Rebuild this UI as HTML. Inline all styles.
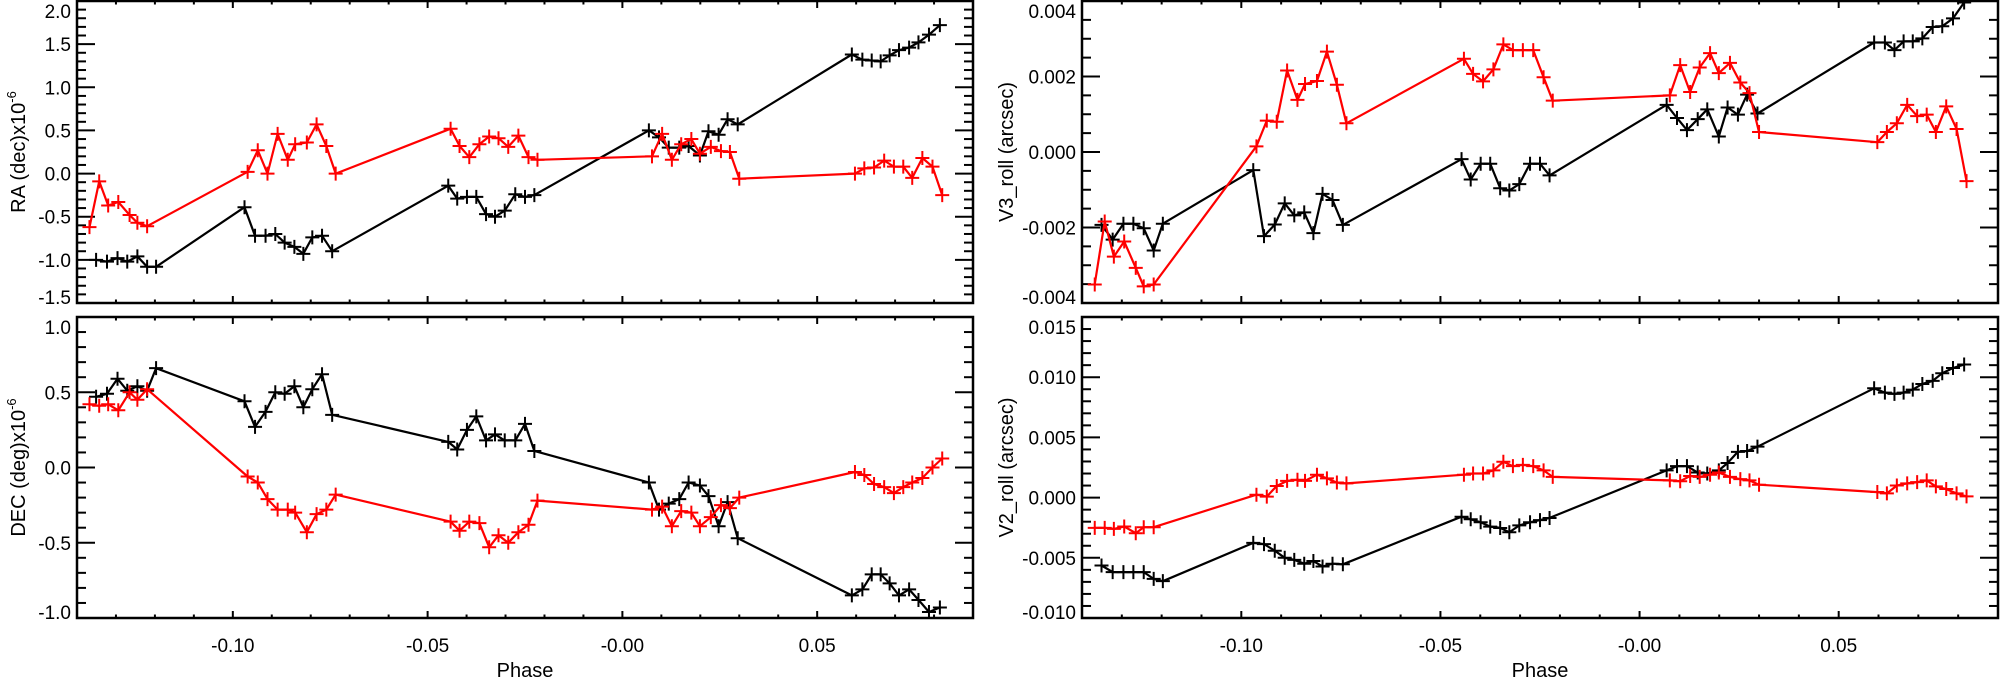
<!DOCTYPE html>
<html><head><meta charset="utf-8"><style>
html,body{margin:0;padding:0;background:#fff;}
svg{display:block;font-family:"Liberation Sans",Arial,sans-serif;}
</style></head><body>
<svg id="fig" width="2000" height="679" viewBox="0 0 2000 679" xmlns="http://www.w3.org/2000/svg"></svg>
<script>
// ---- data ----
const blackPhase = [-0.1351,-0.1323,-0.1296,-0.1271,-0.1245,-0.1220,-0.1197,
 -0.0970,-0.0943,-0.0916,-0.0891,-0.0867,-0.0842,-0.0819,-0.0796,-0.0771,-0.0745,
 -0.0447,-0.0424,-0.0399,-0.0375,-0.0350,-0.0327,-0.0302,-0.0275,-0.0250,-0.0226,
 0.0068,0.0094,0.0119,0.0146,0.0170,0.0199,0.0221,0.0247,0.0270,0.0296,
 0.0589,0.0616,0.0640,0.0663,0.0686,0.0710,0.0736,0.0760,0.0787,0.0815];
const redPhase = [-0.1368,-0.1343,-0.1320,-0.1294,-0.1265,-0.1245,-0.1220,
 -0.0962,-0.0936,-0.0911,-0.0885,-0.0859,-0.0840,-0.0810,-0.0785,-0.0760,-0.0736,
 -0.0441,-0.0418,-0.0393,-0.0367,-0.0342,-0.0318,-0.0293,-0.0267,-0.0241,-0.0218,
 0.0076,0.0102,0.0127,0.0151,0.0177,0.0199,0.0227,0.0253,0.0276,0.0300,
 0.0597,0.0621,0.0646,0.0672,0.0697,0.0721,0.0744,0.0770,0.0796,0.0821];
const raBlack = [-1.00,-1.02,-0.98,-1.02,-0.96,-1.08,-1.08,
 -0.39,-0.72,-0.72,-0.70,-0.80,-0.85,-0.93,-0.74,-0.72,-0.90,
 -0.14,-0.29,-0.27,-0.27,-0.47,-0.50,-0.43,-0.24,-0.27,-0.25,
 0.50,0.42,0.30,0.30,0.32,0.21,0.49,0.45,0.63,0.57,
 1.38,1.32,1.31,1.30,1.37,1.43,1.46,1.52,1.61,1.72];
const raRed = [-0.62,-0.09,-0.37,-0.33,-0.48,-0.57,-0.61,
 0.02,0.27,0.00,0.46,0.16,0.34,0.36,0.57,0.32,0.00,
 0.52,0.32,0.19,0.34,0.43,0.41,0.31,0.44,0.19,0.16,
 0.20,0.46,0.16,0.34,0.40,0.23,0.31,0.26,0.25,-0.06,
 0.00,0.06,0.07,0.15,0.08,0.08,-0.05,0.18,0.08,-0.25];
const decBlack = [0.47,0.49,0.59,0.51,0.54,0.51,0.66,
 0.44,0.27,0.37,0.50,0.49,0.54,0.40,0.52,0.62,0.35,
 0.17,0.12,0.25,0.34,0.18,0.22,0.18,0.18,0.29,0.11,
 -0.10,-0.28,-0.24,-0.21,-0.10,-0.12,-0.19,-0.39,-0.23,-0.47,
 -0.85,-0.81,-0.71,-0.71,-0.77,-0.85,-0.81,-0.88,-0.96,-0.93];
const decRed = [0.42,0.41,0.42,0.38,0.50,0.45,0.52,
 -0.06,-0.10,-0.21,-0.28,-0.28,-0.30,-0.43,-0.31,-0.28,-0.18,
 -0.36,-0.42,-0.36,-0.37,-0.53,-0.45,-0.50,-0.43,-0.38,-0.22,
 -0.28,-0.26,-0.39,-0.29,-0.30,-0.39,-0.33,-0.25,-0.27,-0.20,
 -0.03,-0.05,-0.11,-0.13,-0.17,-0.13,-0.10,-0.07,0.00,0.06];
const v3Black = [-0.00193,-0.00232,-0.00190,-0.00190,-0.00202,-0.00261,-0.00190,
 -0.00048,-0.00223,-0.00192,-0.00136,-0.00168,-0.00160,-0.00215,-0.00111,-0.00127,-0.00193,
 -0.00019,-0.00073,-0.00031,-0.00031,-0.00096,-0.00102,-0.00085,-0.00031,-0.00031,-0.00062,
 0.00125,0.00090,0.00058,0.00087,0.00113,0.00041,0.00118,0.00099,0.00152,0.00102,
 0.00290,0.00290,0.00270,0.00293,0.00293,0.00301,0.00331,0.00333,0.00354,0.00396];
const v3Red = [-0.00351,-0.00184,-0.00277,-0.00237,-0.00307,-0.00356,-0.00351,
 0.00015,0.00083,0.00080,0.00216,0.00138,0.00180,0.00188,0.00266,0.00178,0.00076,
 0.00247,0.00207,0.00187,0.00219,0.00285,0.00270,0.00270,0.00270,0.00198,0.00136,
 0.00150,0.00230,0.00159,0.00224,0.00262,0.00209,0.00236,0.00184,0.00156,0.00053,
 0.00026,0.00053,0.00076,0.00125,0.00095,0.00099,0.00053,0.00121,0.00061,-0.00077];
const v2Black = [-0.00564,-0.00619,-0.00619,-0.00619,-0.00619,-0.00675,-0.00694,
 -0.00376,-0.00386,-0.00441,-0.00500,-0.00517,-0.00549,-0.00527,-0.00572,-0.00549,-0.00554,
 -0.00159,-0.00180,-0.00205,-0.00241,-0.00252,-0.00288,-0.00231,-0.00205,-0.00187,-0.00169,
 0.00226,0.00261,0.00261,0.00208,0.00200,0.00226,0.00287,0.00380,0.00387,0.00423,
 0.00908,0.00872,0.00861,0.00872,0.00897,0.00944,0.00969,0.01033,0.01076,0.01105];
const v2Red = [-0.00251,-0.00251,-0.00260,-0.00240,-0.00296,-0.00246,-0.00246,
 0.00024,0.00008,0.00096,0.00139,0.00148,0.00139,0.00190,0.00160,0.00125,0.00118,
 0.00190,0.00200,0.00200,0.00226,0.00298,0.00261,0.00272,0.00261,0.00226,0.00172,
 0.00143,0.00136,0.00179,0.00172,0.00190,0.00208,0.00172,0.00153,0.00143,0.00107,
 0.00046,0.00035,0.00100,0.00118,0.00129,0.00143,0.00093,0.00071,0.00035,0.00010];
const xTickLabels = ["-0.10","-0.05","-0.00","0.05"];
const xTickValues = [-0.10,-0.05,0.00,0.05];
const raTicks = ["-1.5","-1.0","-0.5","0.0","0.5","1.0","1.5","2.0"];
const decTicks = ["-1.0","-0.5","0.0","0.5","1.0"];
const v3Ticks = ["-0.004","-0.002","0.000","0.002","0.004"];
const v2Ticks = ["-0.010","-0.005","0.000","0.005","0.010","0.015"];

const NS="http://www.w3.org/2000/svg";
const svg=document.getElementById('fig');
function mk(tag,attrs,parent){const e=document.createElementNS(NS,tag);for(const k in attrs)e.setAttribute(k,attrs[k]);(parent||svg).appendChild(e);return e;}

const panels=[
 {name:'ra-panel',x0:77,x1:973,y0:1,y1:303,ymin:-1.5,ymax:2.0,ticks:raTicks,minor:0.1,title:'RA (dec)x10',sup:'-6',blk:raBlack,red:raRed,xl:false,tx:18},
 {name:'dec-panel',x0:77,x1:973,y0:317,y1:618,ymin:-1.0,ymax:1.0,ticks:decTicks,minor:0.1,title:'DEC (deg)x10',sup:'-6',blk:decBlack,red:decRed,xl:true,tx:18},
 {name:'v3-roll-panel',x0:1082,x1:1998,y0:1,y1:303,ymin:-0.004,ymax:0.004,ticks:v3Ticks,minor:0.0005,title:'V3_roll (arcsec)',sup:'',blk:v3Black,red:v3Red,xl:false,tx:1006},
 {name:'v2-roll-panel',x0:1082,x1:1998,y0:317,y1:618,ymin:-0.010,ymax:0.015,ticks:v2Ticks,minor:0.001,title:'V2_roll (arcsec)',sup:'',blk:v2Black,red:v2Red,xl:true,tx:1006}
];
const PMIN=-0.14,PMAX=0.09;
panels.forEach(p=>{
  const g=mk('g',{});
  
  
  const xs=v=>p.x0+(v-PMIN)/(PMAX-PMIN)*(p.x1-p.x0);
  const ys=v=>p.y1-(v-p.ymin)/(p.ymax-p.ymin)*(p.y1-p.y0);
  const xt=mk('g',{stroke:'#000','stroke-width':2},g);
  
  
  for(let i=-14;i<=9;i++){
    const v=i/100, X=xs(v), L=(i%5===0)?7:3.5;
    mk('line',{x1:X,x2:X,y1:p.y1,y2:p.y1-L},xt);
    mk('line',{x1:X,x2:X,y1:p.y0,y2:p.y0+L},xt);
  }
  const yt=mk('g',{stroke:'#000','stroke-width':2},g);
  
  
  const n=Math.round((p.ymax-p.ymin)/p.minor);
  const majStep=parseFloat(p.ticks[1])-parseFloat(p.ticks[0]);
  const per=Math.round(majStep/p.minor);
  for(let i=0;i<=n;i++){
    const Y=ys(p.ymin+i*p.minor), L=(i%per===0)?18:9;
    mk('line',{x1:p.x0,x2:p.x0+L,y1:Y,y2:Y},yt);
    mk('line',{x1:p.x1,x2:p.x1-L,y1:Y,y2:Y},yt);
  }
  p.ticks.forEach(t=>{
    let Y=ys(parseFloat(t));
    Y=Math.max(p.y0+10,Math.min(p.y1-6,Y));
    const tx=mk('text',{x:p.x0-6,y:Y+7,'text-anchor':'end','font-size':19,fill:'#000'},g);
    
    
    tx.textContent=t;
  });
  const cy=(p.y0+p.y1)/2;
  const tt=mk('text',{x:p.tx,y:cy,'text-anchor':'middle','font-size':20,fill:'#000',transform:`rotate(-90 ${p.tx} ${cy})`,dy:7},g);
  
  
  tt.textContent=p.title;
  if(p.sup){const s=mk('tspan',{'font-size':13,dy:-9},tt);s.textContent=p.sup;}
  if(p.xl){
    xTickValues.forEach((v,i)=>{
      const tx=mk('text',{x:xs(v),y:652,'text-anchor':'middle','font-size':19,fill:'#000'},g);
      
      
      tx.textContent=xTickLabels[i];
    });
    const ph=mk('text',{x:(p.x0+p.x1)/2,y:677,'text-anchor':'middle','font-size':20,fill:'#000'},g);
    
    
    ph.textContent='Phase';
  }
  [[p.blk,blackPhase,'#000','black'],[p.red,redPhase,'#ff0000','red']].forEach(([vals,ph,col,nm])=>{
    const sg=mk('g',{},g);
    
    
    const pts=vals.map((v,i)=>xs(ph[i]).toFixed(1)+','+ys(v).toFixed(1)).join(' ');
    const pl=mk('polyline',{points:pts,fill:'none',stroke:col,'stroke-width':2.2,'stroke-linejoin':'round'},sg);
    
    
    vals.forEach((v,i)=>{
      const X=xs(ph[i]),Y=ys(v);
      const m=mk('path',{d:`M${X-7},${Y}H${X+7}M${X},${Y-7}V${Y+7}`,stroke:col,'stroke-width':2},sg);
      
      
    });
  });
  const fr=mk('rect',{x:p.x0,y:p.y0,width:p.x1-p.x0,height:p.y1-p.y0,fill:'none',stroke:'#000','stroke-width':2.5},g);
  
  
});
</script>
</body></html>
